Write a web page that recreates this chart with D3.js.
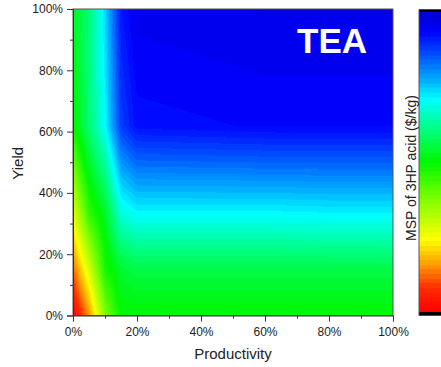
<!DOCTYPE html>
<meta charset="utf-8">
<title>TEA contour</title>
<style>
body { margin: 0; background: #fff; }
svg { display: block; font-family: "Liberation Sans", Arial, sans-serif; }
.tick text { fill: #222; font-size: 12px; }
.tick line { stroke: #333; }
</style>
<svg></svg>
<script src="https://cdn.jsdelivr.net/npm/d3@7"></script>
<script>
// grid: productivity (%) x yield (%) -> MSP ($/kg)
var productivity = [0, 5, 10, 15, 20, 40, 60, 80, 100];
var yieldLevels = [0, 15, 33, 62, 100];
// one row per yield level
var msp = [
  [5.00, 4.40, 3.50, 3.00, 3.00, 3.00, 3.00, 3.00, 3.00],
  [4.52, 3.86, 3.10, 2.84, 2.76, 2.76, 2.76, 2.76, 2.76],
  [3.92, 3.20, 2.88, 2.28, 2.16, 2.16, 2.16, 2.14, 2.14],
  [3.04, 2.60, 2.16, 1.48, 1.28, 1.26, 1.24, 1.24, 1.24],
  [2.88, 2.60, 2.04, 1.32, 1.16, 1.14, 1.12, 1.12, 1.12]
];
var xTicks = [0, 20, 40, 60, 80, 100];
var minorTicks = [10, 30, 50, 70, 90];
var mspMax = 5, mspMin = 1;

var width = 441, height = 367;
// plot box (note: "top" is taken by window.top)
var plotL = 73, plotR = 393, plotT = 9, plotB = 315.5;

var svg = d3.select("svg").attr("width", width).attr("height", height);

var x = d3.scaleLinear().domain([0, 100]).range([plotL, plotR]);
var y = d3.scaleLinear().domain([0, 100]).range([plotB, plotT]);

// rainbow palette, 0 = red (high MSP), 1 = blue (low MSP)
var tScale = d3.scaleLinear().domain([mspMax, mspMin]).range([0, 1]).clamp(true);
var color = d3.scaleLinear()
  .domain([0, 0.08, 0.16, 0.24, 0.375, 0.5, 0.61, 0.71, 0.78, 0.86, 0.94, 1])
  .range(["#ff0000", "#ff3000", "#ffa000", "#ffff00", "#80ff00", "#00f800",
          "#00ff80", "#00ffff", "#00a8ff", "#0050ff", "#0000ff", "#0000d0"])
  .interpolate(d3.interpolateRgb).clamp(true);
var levels = 64;
function levelColor(v) {
  var t = tScale(v);
  var q = Math.min(levels - 1, Math.floor(t * levels));
  return color((q + 0.5) / levels);
}

function cell(arr, v) {
  var i = d3.bisectRight(arr, v) - 1;
  return Math.max(0, Math.min(arr.length - 2, i));
}
function mspAt(p, q) {
  var i = cell(productivity, p), j = cell(yieldLevels, q);
  var tx = (p - productivity[i]) / (productivity[i + 1] - productivity[i]);
  var ty = (q - yieldLevels[j]) / (yieldLevels[j + 1] - yieldLevels[j]);
  var a = msp[j][i] * (1 - tx) + msp[j][i + 1] * tx;
  var b = msp[j + 1][i] * (1 - tx) + msp[j + 1][i + 1] * tx;
  return a * (1 - ty) + b * ty;
}

// heat map
var w = Math.round(plotR - plotL), h = Math.round(plotB - plotT);
var canvas = document.createElement("canvas");
canvas.width = w; canvas.height = h;
var ctx = canvas.getContext("2d");
var img = ctx.createImageData(w, h);
for (var r = 0; r < h; r++) {
  var q = y.invert(plotT + r + 0.5);
  for (var c = 0; c < w; c++) {
    var p = x.invert(plotL + c + 0.5);
    var col = d3.rgb(levelColor(mspAt(p, q)));
    var k = (r * w + c) * 4;
    img.data[k] = col.r; img.data[k + 1] = col.g; img.data[k + 2] = col.b; img.data[k + 3] = 255;
  }
}
ctx.putImageData(img, 0, 0);
svg.append("image")
  .attr("x", plotL).attr("y", plotT)
  .attr("width", plotR - plotL).attr("height", plotB - plotT)
  .attr("preserveAspectRatio", "none")
  .attr("href", canvas.toDataURL());

// frame
svg.append("rect")
  .attr("x", plotL).attr("y", plotT)
  .attr("width", plotR - plotL).attr("height", plotB - plotT)
  .style("fill", "none").style("stroke", "#555").style("stroke-width", 1);

// axes
var pct = function(d) { return d + "%"; };
svg.append("g").attr("transform", "translate(0," + plotB + ")")
  .call(d3.axisBottom(x).tickValues(xTicks).tickFormat(pct).tickSize(6).tickPadding(6))
  .call(function(g) { g.select(".domain").style("stroke", "#333"); });
svg.append("g").attr("transform", "translate(0," + plotB + ")")
  .call(d3.axisBottom(x).tickValues(minorTicks).tickFormat("").tickSize(3))
  .call(function(g) { g.select(".domain").remove(); });
svg.append("g").attr("transform", "translate(" + plotL + ",0)")
  .call(d3.axisLeft(y).tickValues(xTicks).tickFormat(pct).tickSize(6).tickPadding(4))
  .call(function(g) { g.select(".domain").style("stroke", "#333"); });
svg.append("g").attr("transform", "translate(" + plotL + ",0)")
  .call(d3.axisLeft(y).tickValues(minorTicks).tickFormat("").tickSize(3))
  .call(function(g) { g.select(".domain").remove(); });

svg.append("text")
  .attr("x", (plotL + plotR) / 2).attr("y", 359)
  .style("text-anchor", "middle").style("font-size", "15px").style("fill", "#222")
  .text("Productivity");
svg.append("text")
  .attr("transform", "translate(23," + ((plotT + plotB) / 2 + 1) + ") rotate(-90)")
  .style("text-anchor", "middle").style("font-size", "15px").style("fill", "#222")
  .text("Yield");

svg.append("text")
  .attr("x", 297).attr("y", 52.5)
  .style("font-size", "35px").style("font-weight", "bold").style("fill", "#fff")
  .text("TEA");

// colour bar
var cbX = 419, cbW = 30, cbTop = 13.3, cbBot = 311.7;
var cb = d3.scaleLinear().domain([mspMax, mspMin]).range([cbBot, cbTop]);
var steps = d3.range(0, 300);
var stepV = d3.scaleLinear().domain([0, 299]).range([mspMax, mspMin]);
svg.append("rect").attr("x", cbX).attr("y", 9.3).attr("width", cbW).attr("height", 306.4).style("fill", "#000");
svg.append("g").selectAll("rect")
  .data(steps)
  .enter().append("rect")
  .attr("x", cbX)
  .attr("y", function(d) { return cb(stepV(d)) - (cbBot - cbTop) / 299 - 0.3; })
  .attr("width", cbW)
  .attr("height", (cbBot - cbTop) / 299 + 0.6)
  .style("fill", function(d) { return levelColor(stepV(d)); });
svg.append("line").attr("x1", cbX).attr("x2", cbX).attr("y1", 9.3).attr("y2", 315.7)
  .style("stroke", "#555").style("stroke-width", 1);

svg.append("text")
  .attr("transform", "translate(416,168) rotate(-90)")
  .style("text-anchor", "middle").style("font-size", "14px").style("fill", "#222")
  .text("MSP of 3HP acid ($/kg)");
</script>
